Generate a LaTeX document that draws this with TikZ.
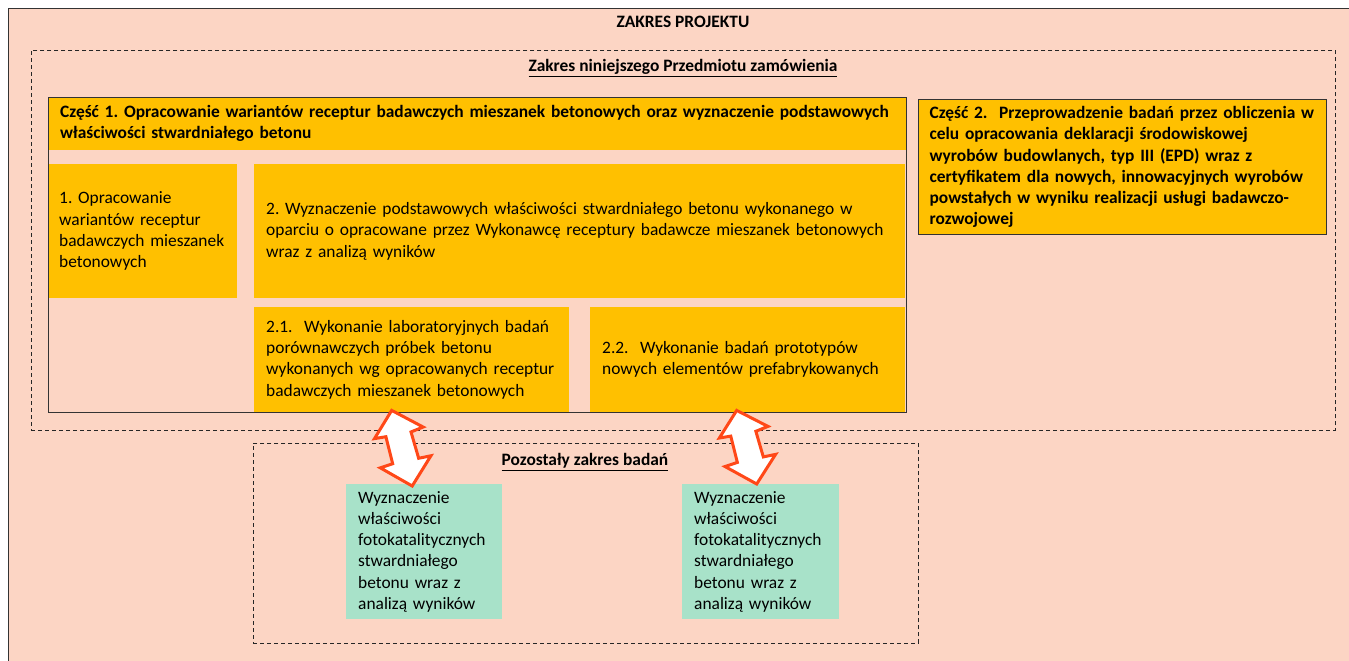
\documentclass[tikz,border=0pt]{standalone}
\usepackage{fontspec}
\setmainfont{Carlito}
\usetikzlibrary{calc}
\definecolor{tlo}{RGB}{252,213,196}
\definecolor{zolty}{RGB}{255,192,0}
\definecolor{zielony}{RGB}{168,226,201}
\definecolor{czerwony}{RGB}{255,72,24}
\newcommand{\rozmiar}{\fontsize{17.4pt}{21.3pt}\selectfont\frenchspacing}
\newcommand{\blyskawica}[2]{%
  \draw[strzalka] (#1)
    -- ($(#1)!.31!(#2)!26pt!90:(#2)$)
    -- ($(#1)!.33!(#2)!13pt!90:(#2)$)
    -- ($(#1)!.68!(#2)!13.5pt!90:(#2)$)
    -- ($(#1)!.69!(#2)!26pt!90:(#2)$)
    -- (#2)
    -- ($(#1)!.67!(#2)!26pt!-90:(#2)$)
    -- ($(#1)!.66!(#2)!13pt!-90:(#2)$)
    -- ($(#1)!.305!(#2)!12.5pt!-90:(#2)$)
    -- ($(#1)!.29!(#2)!24pt!-90:(#2)$)
    -- cycle;}
\begin{document}
\begin{tikzpicture}[x=1pt, y=-1pt, font=\rozmiar,
  ramka/.style={draw=black!80, line width=1.2pt, anchor=north west, inner sep=0pt},
  przerywana/.style={draw=black!85, dash pattern=on 4pt off 3pt, line width=0.9pt, anchor=north west, inner sep=0pt},
  pole/.style={fill=zolty, anchor=north west, inner xsep=12pt, inner ysep=0pt, align=left},
  tytul/.style={font=\rozmiar\bfseries},
  strzalka/.style={draw=czerwony, fill=white, line width=3pt, line join=miter}]
  \useasboundingbox[fill=white] (0,0) rectangle (1349,661);
  \clip (0,0) rectangle (1349,661);
  \node[ramka, fill=tlo, minimum width=1360pt, minimum height=670pt] (projekt) at (8,8) {};
  \node[tytul] (tytul) at (683,22) {ZAKRES PROJEKTU};
  \node[przerywana, minimum width=1304pt, minimum height=380pt] (przedmiot) at (31,50) {};
  \node[tytul] (tytulprzedmiot) at (683,68) {\underline{Zakres niniejszego Przedmiotu zamówienia}};
  % czesc 1
  \node[pole, tytul, minimum width=858pt, minimum height=53pt, text width=834pt] (naglowek) at (48,97)
    {Część 1. Opracowanie wariantów receptur badawczych mieszanek betonowych oraz wyznaczenie podstawowych\\
     właściwości stwardniałego betonu};
  \node[pole, minimum width=188pt, minimum height=134pt, text width=168pt, inner xsep=10pt] (warianty) at (49,164)
    {1. Opracowanie\\ wariantów receptur\\ badawczych mieszanek\\ betonowych};
  \node[pole, minimum width=651pt, minimum height=134pt, text width=627pt] (wyznaczenie) at (254,164)
    {2. Wyznaczenie podstawowych właściwości stwardniałego betonu wykonanego w\\
     oparciu o opracowane przez Wykonawcę receptury badawcze mieszanek betonowych\\
     wraz z analizą wyników};
  \node[pole, minimum width=315pt, minimum height=105pt, text width=291pt] (badania) at (254,307)
    {2.1.\ \ Wykonanie laboratoryjnych badań\\ porównawczych próbek betonu\\
     wykonanych wg opracowanych receptur\\ badawczych mieszanek betonowych};
  \node[pole, minimum width=315pt, minimum height=105pt, text width=291pt] (prototypy) at (590,307)
    {2.2.\ \ Wykonanie badań prototypów\\ nowych elementów prefabrykowanych};
  \node[ramka, minimum width=858pt, minimum height=315pt] (czesc1) at (48,97) {};
  % czesc 2
  \node[pole, ramka, tytul, fill=zolty, minimum width=408pt, minimum height=135pt, text width=386pt, inner xsep=11pt] (czesc2) at (918,99)
    {Część 2.\ \ Przeprowadzenie badań przez obliczenia w\\ celu opracowania deklaracji środowiskowej\\
     wyrobów budowlanych, typ III (EPD) wraz z\\ certyfikatem dla nowych, innowacyjnych wyrobów\\
     powstałych w wyniku realizacji usługi badawczo-\\ rozwojowej};
  % pozostaly zakres
  \node[przerywana, minimum width=665pt, minimum height=200pt] (pozostaly) at (253,443) {};
  \node[tytul] (tytulpozostaly) at (585,462) {\underline{Pozostały zakres badań}};
  \node[pole, fill=zielony, minimum width=156pt, minimum height=135pt, text width=132pt] (foto1) at (346,484)
    {Wyznaczenie\\ właściwości\\ fotokatalitycznych\\ stwardniałego\\ betonu wraz z\\ analizą wyników};
  \node[pole, fill=zielony, minimum width=157pt, minimum height=135pt, text width=133pt] (foto2) at (682,484)
    {Wyznaczenie\\ właściwości\\ fotokatalitycznych\\ stwardniałego\\ betonu wraz z\\ analizą wyników};
  \coordinate (s1) at ([xshift=-20pt, yshift=2pt]badania.south);
  \coordinate (k1) at ([xshift=-12pt, yshift=-2pt]foto1.north);
  \coordinate (s2) at ([xshift=-11pt, yshift=2pt]prototypy.south);
  \coordinate (k2) at ([xshift=-4pt]foto2.north);
  \blyskawica{s1}{k1}
  \blyskawica{s2}{k2}
\end{tikzpicture}
\end{document}
